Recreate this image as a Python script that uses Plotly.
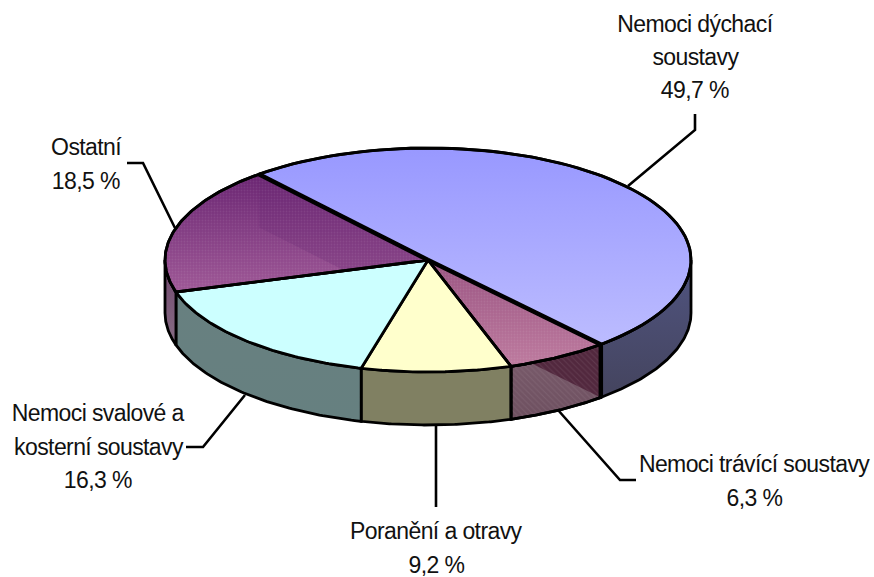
import numpy as np
import plotly.graph_objects as go

# --- data ---
categories = ["Nemoci dýchací soustavy", "Nemoci trávící soustavy", "Poranění a otravy",
              "Nemoci svalové a kosterní soustavy", "Ostatní"]
values = [49.7, 6.3, 9.2, 16.3, 18.5]
label_lines = [["Nemoci dýchací", "soustavy"], ["Nemoci trávící soustavy"], ["Poranění a otravy"],
               ["Nemoci svalové a", "kosterní soustavy"], ["Ostatní"]]

# --- geometry / style ---
CX, CY, RX, RY, DEPTH = 428, 260, 263, 112, 53
START = -40.0
top_colors = [("#9898ff", "#bcbcff"), ("#9a5482", "#bd7a9e"), ("#ffffcc", "#ffffcc"),
              ("#ccffff", "#ccffff"), ("#6a2472", "#9e5896")]
wall_colors = [("#505480", "#44445e"), ("#7a5c6c", "#6e5060"), ("#808062", "#808062"),
               ("#688080", "#668080"), ("#72486e", "#866c84")]
label_pos = [(695, [24, 57, 90]), (754, [464, 498]), (436, [531, 565]),
             (98, [413, 447, 480]), (86, [147, 181])]
leaders = [[(695, 114), (695, 130), (628, 186)],
           [(558, 410), (620, 480), (636, 480)],
           [(436, 425), (436, 507)],
           [(186, 447), (203, 447), (245, 395)],
           [(127, 163), (143, 163), (175, 228)]]

def pt(a, dz=0.0):
    r = np.radians(a)
    return CX + RX * np.sin(r), CY - RY * np.cos(r) + dz

def arc(a0, a1, dz=0.0, n=80):
    t = np.linspace(a0, a1, n)
    return pt(t, dz)

edges = START + np.concatenate([[0], np.cumsum(values)]) * 3.6
fig = go.Figure()

def grad(c0, c1, y0, y1):
    return dict(type="vertical", start=y0, stop=y1, colorscale=[[0, c0], [1, c1]])

def poly(xs, ys, fill=None, gradient=None, line=2.8, pattern=None):
    kw = {}
    if fill: kw["fillcolor"] = fill
    if gradient: kw["fillgradient"] = gradient
    if pattern: kw["fillpattern"] = pattern
    fig.add_trace(go.Scatter(x=list(xs) + [xs[0]], y=list(ys) + [ys[0]], mode="lines", fill="toself",
                             line=dict(color="black", width=line) if line else dict(width=0, color="rgba(0,0,0,0)"),
                             hoverinfo="skip", showlegend=False, **kw))

def seg(p, q, w):
    fig.add_trace(go.Scatter(x=[p[0], q[0]], y=[p[1], q[1]], mode="lines",
                             line=dict(color="black", width=w), hoverinfo="skip", showlegend=False))

def isect(p1, p2, p3, p4):
    a = np.array([[p2[0]-p1[0], -(p4[0]-p3[0])], [p2[1]-p1[1], -(p4[1]-p3[1])]])
    b = np.array([p3[0]-p1[0], p3[1]-p1[1]])
    s = np.linalg.solve(a, b)[0]
    return p1[0] + s*(p2[0]-p1[0]), p1[1] + s*(p2[1]-p1[1])

# side walls (front half only)
for i in range(5):
    a0, a1 = edges[i], edges[i+1]
    lo, hi = max(a0, 90), min(a1, 270)
    if lo >= hi:
        continue
    xt, yt = arc(lo, hi)
    xb, yb = arc(hi, lo, DEPTH)
    ys = np.concatenate([yt, yb])
    poly(np.concatenate([xt, xb]), ys, gradient=grad(*wall_colors[i], ys.min(), ys.max()))

# inner wall of the big slice showing through the semi-transparent digestive wall
C, Cb = (CX, CY), (CX, CY + DEPTH)
P1, P1b = pt(edges[1]), pt(edges[1], DEPTH)
best = np.argmin([abs((P1b[1] + (pt(a)[0]-P1b[0])*(Cb[1]-P1b[1])/(Cb[0]-P1b[0])) - pt(a)[1])
                  for a in np.linspace(edges[1], edges[2], 100)])
hit = np.linspace(edges[1], edges[2], 100)[best]
xt, yt = arc(edges[1], hit, 0, 30)
poly(np.concatenate([[P1b[0]], xt]), np.concatenate([[P1b[1]], yt]), fill="#52283e", line=0)
# hatch on digestive wall
xt, yt = arc(edges[1], edges[2]); xb, yb = arc(edges[2], edges[1], DEPTH)
poly(np.concatenate([xt, xb]), np.concatenate([yt, yb]), fill="rgba(0,0,0,0)", line=2.8,
     pattern=dict(shape="\\", size=4, solidity=0.25, fgcolor="rgba(200,180,190,0.25)",
                  bgcolor="rgba(0,0,0,0)", fillmode="overlay"))

# top faces
for i in range(5):
    xa, ya = arc(edges[i], edges[i+1])
    xs = np.concatenate([[CX], xa]); ys = np.concatenate([[CY], ya])
    poly(xs, ys, gradient=grad(*top_colors[i], ys.min(), ys.max()))

# inner wall seen through the "other" slice
P0, P0b = pt(edges[0] + 360), pt(edges[0] + 360, DEPTH)
Q = pt(edges[4])
X = isect(P0b, Cb, C, Q)
poly([P0[0], P0b[0], X[0], C[0]], [P0[1], P0b[1], X[1], C[1]], fill="rgba(105,40,115,0.3)", line=0)

# dotted texture on the textured top faces
for i in (1, 4):
    xa, ya = arc(edges[i], edges[i+1])
    xs = np.concatenate([[CX], xa]); ys = np.concatenate([[CY], ya])
    poly(xs, ys, fill="rgba(0,0,0,0)", line=2.8,
         pattern=dict(shape=".", size=3, solidity=0.3, fgcolor="rgba(255,255,255,0.16)",
                      bgcolor="rgba(0,0,0,0)", fillmode="overlay"))

# heavy radii around the big slice, outer vertical edges
seg(pt(edges[0]), C, 4.5)
seg(C, pt(edges[1]), 4.5)
seg(pt(edges[1]), pt(edges[1], DEPTH), 4.5)
xa, ya = arc(edges[0], edges[1])
fig.add_trace(go.Scatter(x=xa, y=ya, mode="lines", line=dict(color="black", width=2.8),
                         hoverinfo="skip", showlegend=False))

# leader lines
for pts in leaders:
    fig.add_trace(go.Scatter(x=[p[0] for p in pts], y=[p[1] for p in pts], mode="lines",
                             line=dict(color="black", width=2.6), hoverinfo="skip", showlegend=False))

# labels
for lines, val, (lx, lys) in zip(label_lines, values, label_pos):
    texts = lines + [f"{val:.1f}".replace(".", ",") + " %"]
    for t, ly in zip(texts, lys):
        fig.add_annotation(x=lx, y=ly, text=t, showarrow=False, xanchor="center", yanchor="middle",
                           font=dict(family="Liberation Sans", size=23, color="#111111"))

fig.update_layout(width=874, height=577, margin=dict(l=0, r=0, t=0, b=0), autosize=False,
                  paper_bgcolor="white", plot_bgcolor="white", showlegend=False,
                  xaxis=dict(range=[0, 874], visible=False, fixedrange=True),
                  yaxis=dict(range=[577, 0], visible=False, fixedrange=True))
post = """
document.body.style.margin='0';
document.documentElement.style.overflow='hidden';
document.querySelectorAll('.annotation-text').forEach(function(t){t.style.letterSpacing='-0.6px';});
"""
fig.write_html("out.html", include_plotlyjs=True, config=dict(displayModeBar=False), post_script=post)
